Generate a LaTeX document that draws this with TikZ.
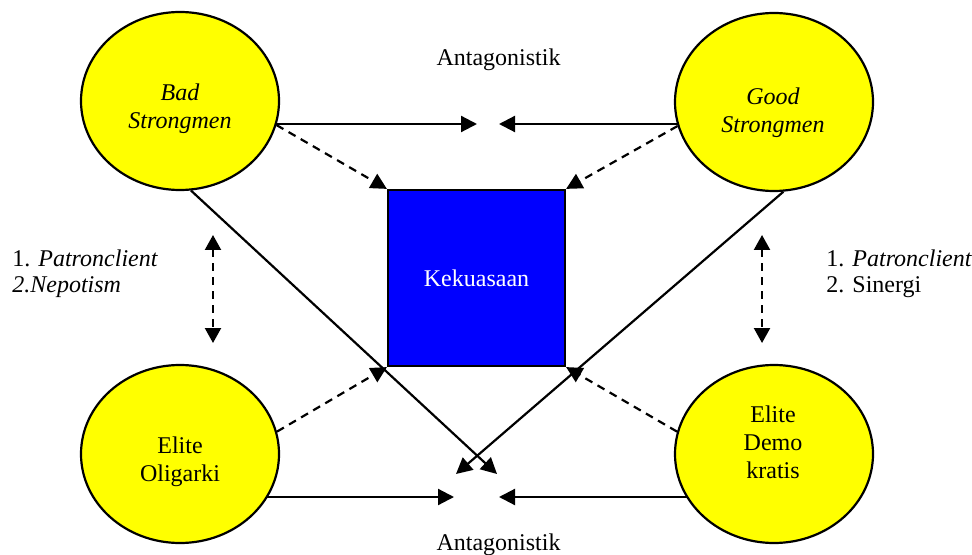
\documentclass[tikz,border=0pt]{standalone}
\usepackage{fontspec}
\setmainfont{Liberation Serif}
\usetikzlibrary{shapes.geometric,arrows.meta}
\definecolor{actorfill}{RGB}{255,255,0}
\definecolor{powerfill}{RGB}{0,0,255}
\begin{document}
\begin{tikzpicture}[x=0.5pt,y=-0.5pt,
  actor/.style={ellipse,draw=black,line width=1.1pt,fill=actorfill,minimum width=99pt,minimum height=89pt,inner sep=0pt},
  txt/.style={font=\fontsize{12}{14}\selectfont,align=center,inner sep=0pt},
  ltxt/.style={font=\fontsize{12}{14}\selectfont,align=left,inner sep=0pt,anchor=west},
  conn/.style={line width=1.1pt,-{Triangle[length=8pt,width=8pt]}},
  dconn/.style={conn,dash pattern=on 4pt off 3pt},
  twoway/.style={line width=1.1pt,dash pattern=on 4pt off 3pt,{Triangle[length=7.5pt,width=8pt]}-{Triangle[length=7.5pt,width=8pt]}},
  powerbox/.style={rectangle,draw=black,line width=1.1pt,fill=powerfill,minimum width=88.5pt,minimum height=88pt,inner sep=0pt,text=white,font=\fontsize{12}{14}\selectfont}]
\useasboundingbox (0,0) rectangle (972,555);

% actors
\node[actor] (bs) at (180,101) {};
\node[actor] (gs) at (774,102) {};
\node[actor] (eo) at (180,454) {};
\node[actor] (ed) at (774,454) {};
\node[txt] (bst) at (180,109) {\itshape Bad\\\itshape Strongmen};
\node[txt] (gst) at (773,113) {\itshape Good\\\itshape Strongmen};
\node[txt] (eot) at (180,462) {Elite\\Oligarki};
\node[txt] (edt) at (773,442) {Elite\\Demo\\kratis};

% power
\node[powerbox] (kek) at (476.5,278) {Kekuasaan};

% labels
\node[txt] (antTop) at (498.5,60) {Antagonistik};
\node[txt] (antBot) at (498.5,545) {Antagonistik};
\node[ltxt] (l1) at (12,258) {1. \itshape Patronclient};
\node[ltxt] (l2) at (12,287) {\itshape 2.Nepotism};
\node[ltxt] (r1) at (826,258) {1. \itshape Patronclient};
\node[ltxt] (r2) at (826,287) {2. Sinergi};

% free ends
\coordinate (tTL) at (477,124);
\coordinate (tTR) at (499,124);
\coordinate (tBL) at (454,497);
\coordinate (tBR) at (499,497);
\coordinate (xL) at (456,474);
\coordinate (xR) at (497,474);
\coordinate (vLt) at (213,235);
\coordinate (vLb) at (213,343);
\coordinate (vRt) at (762,235);
\coordinate (vRb) at (762,343);

% antagonistic arrows
\draw[conn] (bs.-14 |- tTL) -- (tTL);
\draw[conn] (gs.194 |- tTR) -- (tTR);
\draw[conn] (eo.-27 |- tBL) -- (tBL);
\draw[conn] (ed.207 |- tBR) -- (tBR);

% crossing arrows
\draw[conn] (bs.-83) -- (xR);
\draw[conn] (gs.-84) -- (xL);

% dashed to power
\draw[dconn] (bs.-14) -- (kek.north west);
\draw[dconn] (gs.194) -- (kek.north east);
\draw[dconn] (eo.13) -- (kek.south west);
\draw[dconn] (ed.167) -- (kek.south east);

% vertical two-way
\draw[twoway] (vLt) -- (vLb);
\draw[twoway] (vRt) -- (vRb);
\end{tikzpicture}
\end{document}
